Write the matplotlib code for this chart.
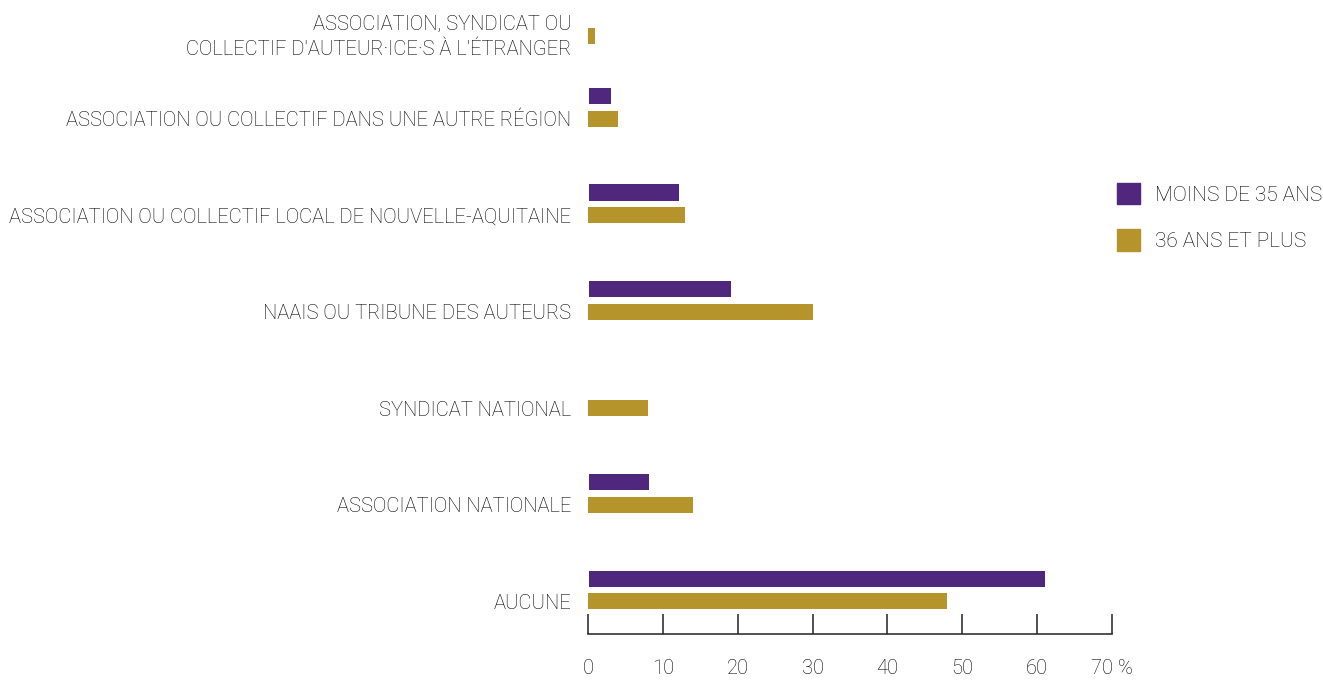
import numpy as np
import matplotlib.pyplot as plt
from matplotlib.patches import Patch

plt.rcParams['font.family'] = ['Roboto', 'DejaVu Sans']
plt.rcParams['font.weight'] = 'light'

categories = ["AUCUNE",
              "ASSOCIATION NATIONALE",
              "SYNDICAT NATIONAL",
              "NAAIS OU TRIBUNE DES AUTEURS",
              "ASSOCIATION OU COLLECTIF LOCAL DE NOUVELLE-AQUITAINE",
              "ASSOCIATION OU COLLECTIF DANS UNE AUTRE RÉGION",
              "ASSOCIATION, SYNDICAT OU\nCOLLECTIF D'AUTEUR·ICE·S À L'ÉTRANGER"]
moins_35 = [61, 8, 0, 19, 12, 3, 0]
plus_36 = [48, 14, 8, 30, 13, 4, 1]
series_names = ["MOINS DE 35 ANS", "36 ANS ET PLUS"]
ticks = [0, 10, 20, 30, 40, 50, 60, 70]
tick_labels = ["0", "10", "20", "30", "40", "50", "60", "70 %"]

purple = '#4f277d'
gold = '#b5952b'
txt = '#000000'
fs = 14.5

fig = plt.figure(figsize=(13.23, 6.8), dpi=100)
ax = fig.add_axes([588/1323, 46/680, (1112-588)/1323, 1 - 46/680 - 5/680])

y = np.arange(len(categories), dtype=float)
y[-1] -= 0.14  # top group sits a little closer in the original
off = 0.119
h = 0.166
ax.barh(y + off, moins_35, height=h, color=purple, left=0.1)
ax.barh(y - off, plus_36, height=h, color=gold)

ax.set_xlim(0, 70)
ax.set_ylim(-0.456, 6.062)
label_pos = y - off
label_pos[-1] += 0.047
ax.set_yticks(label_pos)
ax.set_yticklabels(categories, fontsize=fs, color=txt, linespacing=1.45)
ax.tick_params(axis='y', length=0, pad=12)
ax.set_xticks(ticks)
ax.set_xticklabels(tick_labels, fontsize=fs, color=txt)
ax.tick_params(axis='x', direction='in', length=14.5, width=1.1, color='#222222', pad=18)
for s in ['top', 'right', 'left']:
    ax.spines[s].set_visible(False)
ax.spines['bottom'].set_linewidth(1.1)
ax.spines['bottom'].set_color('#222222')

handles = [Patch(color=purple), Patch(color=gold)]
fig.legend(handles, series_names, loc='upper left', bbox_to_anchor=(1117/1323, 1 - 183/680),
           frameon=False, fontsize=15, handlelength=1.1, handleheight=1.2,
           handletextpad=0.72, labelspacing=1.18, borderpad=0, borderaxespad=0,
           labelcolor=txt)

fig.savefig('out.png', dpi=100)
